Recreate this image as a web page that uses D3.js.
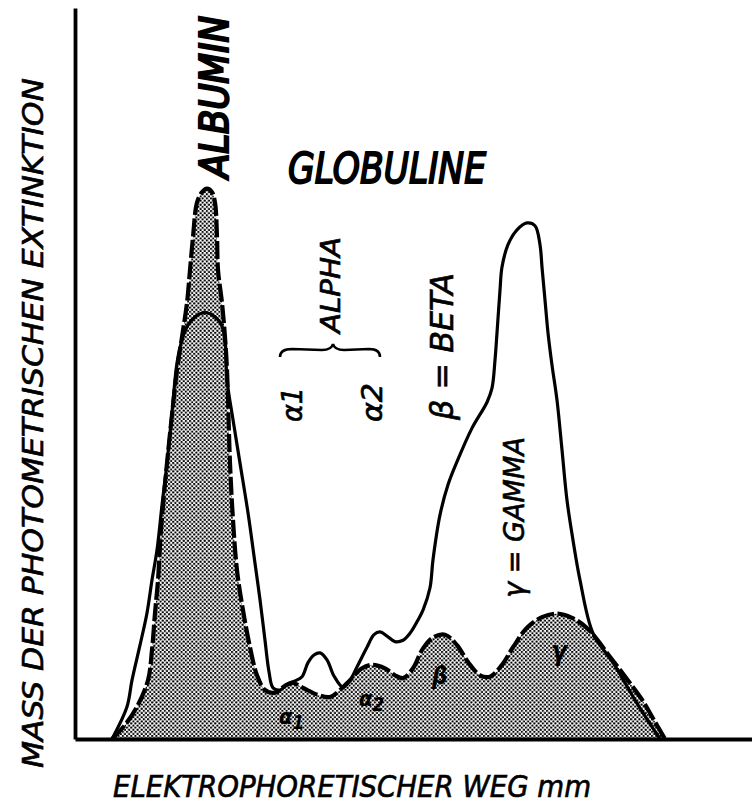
<!DOCTYPE html>
<html>
<head>
<meta charset="utf-8">
<script src="https://cdn.jsdelivr.net/npm/d3@7"></script>
<style>
  html, body { margin: 0; padding: 0; background: #fff; }
  svg { display: block; }
  text { fill: #000; font-family: "Liberation Sans Narrow", "DejaVu Sans Condensed", "DejaVu Sans", sans-serif; }
</style>
</head>
<body>
<div id="chart"></div>
<script>
// ---- Data (x: electrophoretic path in mm, y: photometric extinction, arbitrary units) ----
// Normal serum profile (dashed outline, shaded)
const normalX = [7.4, 10.0, 12.4, 14.6, 15.4, 16.0, 16.6, 17.2, 18.4, 19.4, 20.4, 21.4, 22.4, 23.0, 23.6, 24.4, 25.4, 26.4, 27.4, 28.0, 28.4, 28.6, 29.4, 30.0, 30.4, 31.0, 31.6, 32.4, 33.6, 35.0, 36.4, 38.0, 40.0, 42.0, 43.6, 45.6, 48.6, 51.0, 53.0, 55.0, 57.4, 59.6, 62.0, 64.0, 65.6, 67.6, 69.4, 71.4, 74.0, 76.4, 78.6, 81.0, 83.0, 85.4, 87.6, 90.4, 93.4, 96.4, 99.4, 102.0, 104.2, 106.6, 109.0, 111.4, 113.6, 115.8, 118.0];
const normalY = [0, 2.0, 4.6, 8.4, 12.7, 18.0, 22.7, 29.9, 39.4, 46.3, 52.7, 57.4, 62.3, 67.0, 71.7, 76.6, 78.1, 78.6, 78.1, 76.6, 71.7, 67.0, 62.3, 57.4, 52.7, 39.4, 31.3, 24.1, 18.4, 13.1, 9.1, 7.0, 6.6, 7.6, 8.0, 7.3, 6.3, 6.0, 7.0, 8.4, 10.1, 10.6, 10.1, 9.1, 8.7, 10.1, 12.7, 14.4, 14.9, 13.4, 11.0, 9.1, 8.9, 10.6, 13.1, 15.9, 17.4, 17.9, 17.3, 16.1, 14.4, 12.1, 9.9, 7.6, 5.4, 2.7, 0];

// Pathological profile (solid line)
const pathoX = [7.4, 10.4, 11.4, 13.0, 14.4, 15.4, 16.4, 17.4, 18.4, 19.4, 20.4, 21.4, 22.6, 24.2, 26.0, 27.8, 29.2, 30.0, 30.4, 31.6, 33.0, 34.6, 36.0, 37.0, 38.0, 38.8, 39.6, 41.0, 42.6, 44.0, 45.4, 46.6, 47.8, 49.0, 50.4, 51.8, 53.6, 55.0, 56.4, 58.4, 59.8, 61.0, 62.4, 64.0, 65.6, 67.0, 68.6, 69.6, 71.0, 71.6, 73.0, 74.6, 76.4, 79.4, 82.4, 83.4, 84.0, 84.4, 85.0, 85.4, 86.6, 88.4, 90.4, 92.0, 93.0, 93.4, 94.0, 94.6, 95.4, 96.4, 97.4, 98.4, 99.6, 101.0, 103.6, 107.6, 112.4, 117.0];
const pathoY = [0, 4.6, 8.4, 13.4, 18.0, 22.7, 27.0, 33.4, 39.4, 46.6, 53.7, 57.0, 59.1, 60.4, 60.9, 60.4, 59.3, 57.0, 51.3, 45.6, 39.4, 32.3, 25.1, 19.9, 14.1, 9.6, 7.3, 7.0, 7.9, 8.3, 8.9, 10.9, 12.0, 12.3, 11.3, 9.0, 7.4, 8.4, 10.3, 13.1, 14.9, 15.3, 14.7, 13.9, 14.1, 15.1, 17.0, 18.4, 21.6, 25.6, 32.0, 36.3, 39.6, 44.4, 48.1, 50.1, 54.1, 58.0, 64.1, 67.4, 70.6, 72.7, 73.7, 73.3, 70.6, 67.4, 62.7, 58.0, 53.4, 48.4, 41.3, 34.1, 28.4, 22.7, 15.1, 10.9, 5.1, 0];

// Texts
const yTitle = "MASS DER PHOTOMETRISCHEN EXTINKTION";
const xTitle = "ELEKTROPHORETISCHER WEG mm";
const albuminLabel = "ALBUMIN";
const globulinLabel = "GLOBULINE";
const alphaLabel = "ALPHA";
const betaLabel = "β = BETA";
const gammaLabel = "γ = GAMMA";

// ---- Chart ----
const W = 752, H = 805;
const svg = d3.select("#chart").append("svg").attr("width", W).attr("height", H);

const x = d3.scaleLinear().domain([0, 135.4]).range([75, 752]);
const y = d3.scaleLinear().domain([0, 104.4]).range([739, 8]);

const defs = svg.append("defs");
const pat = defs.append("pattern").attr("id", "dots").attr("patternUnits", "userSpaceOnUse")
  .attr("width", 4.2).attr("height", 4.2);
pat.append("rect").attr("width", 4.2).attr("height", 4.2).attr("fill", "#fff");
pat.append("circle").attr("cx", 1.05).attr("cy", 1.05).attr("r", 1.15).attr("fill", "#000");
pat.append("circle").attr("cx", 3.15).attr("cy", 3.15).attr("r", 1.15).attr("fill", "#000");

const normal = normalX.map((v, i) => [v, normalY[i]]);
const patho = pathoX.map((v, i) => [v, pathoY[i]]);

const curve = d3.curveCatmullRom.alpha(0.5);
const area = d3.area().x(d => x(d[0])).y0(y(0)).y1(d => y(d[1])).curve(curve);
const line = d3.line().x(d => x(d[0])).y(d => y(d[1])).curve(curve);

svg.append("path").datum(normal).attr("d", area).attr("fill", "url(#dots)");
svg.append("path").datum(patho).attr("d", line).attr("fill", "none")
  .attr("stroke", "#000").attr("stroke-width", 3.2).attr("stroke-linejoin", "round");
svg.append("path").datum(normal).attr("d", line).attr("fill", "none")
  .attr("stroke", "#000").attr("stroke-width", 4.2).attr("stroke-dasharray", "18,3.5")
  .attr("stroke-linejoin", "round");

// Axes (no ticks)
const gx = svg.append("g").attr("transform", `translate(0,${y(0)})`)
  .call(d3.axisBottom(x).tickValues([]).tickSizeOuter(0));
const gy = svg.append("g").attr("transform", `translate(${x(0)},0)`)
  .call(d3.axisLeft(y).tickValues([]).tickSizeOuter(0));
[gx, gy].forEach(g => g.select(".domain").attr("stroke", "#000").attr("stroke-width", 3.8));

// Helper for vertical (rotated) text: starts at (bx, by) and reads upward
function vtext(str, bx, by, len, size, heavy) {
  const t = svg.append("text")
    .attr("transform", `translate(${bx},${by}) rotate(-90)`)
    .attr("font-size", size).attr("font-style", "italic")
    .attr("textLength", len).attr("lengthAdjust", "spacingAndGlyphs")
    .text(str);
  t.attr("stroke", "#000").attr("stroke-width", heavy || 0.6);
  return t;
}

vtext(yTitle, 43, 768, 690, 29);
vtext(albuminLabel, 228, 178, 162, 39, 2.2);
vtext(alphaLabel, 340, 333, 96, 26);
vtext("α1", 302, 422, 35, 28);
vtext("α2", 382, 422, 39, 28);
vtext(betaLabel, 453, 420, 147, 32);
vtext(gammaLabel, 524, 598, 161, 29);

svg.append("text").attr("x", 288).attr("y", 183)
  .attr("font-size", 43).attr("font-style", "italic")
  .attr("stroke", "#000").attr("stroke-width", 1.8)
  .attr("textLength", 198).attr("lengthAdjust", "spacingAndGlyphs")
  .text(globulinLabel);

svg.append("text").attr("x", 113).attr("y", 797)
  .attr("font-size", 30).attr("font-style", "italic")
  .attr("stroke", "#000").attr("stroke-width", 0.6)
  .attr("textLength", 478).attr("lengthAdjust", "spacingAndGlyphs")
  .text(xTitle);

// Brace below ALPHA
svg.append("path")
  .attr("d", "M280,357 C280,351 285,349 292,349 L322,350 C328,350 332,348 333,344 C334,348 338,350 344,350 L369,349 C375,349 380,351 380,357")
  .attr("fill", "none").attr("stroke", "#000").attr("stroke-width", 2.6);

// Labels inside the shaded area
function inner(str, sub, px, py, size) {
  const t = svg.append("text").attr("x", px).attr("y", py)
    .attr("font-size", size).attr("font-style", "italic").attr("font-weight", "bold");
  t.append("tspan").text(str);
  if (sub) t.append("tspan").attr("dy", 5).attr("font-size", size * 0.85).text(sub);
  return t;
}
inner("α", "1", 279, 724, 22);
inner("α", "2", 359, 706, 22);
inner("β", null, 432, 684, 24);
inner("γ", null, 551, 660, 26);
</script>
</body>
</html>
